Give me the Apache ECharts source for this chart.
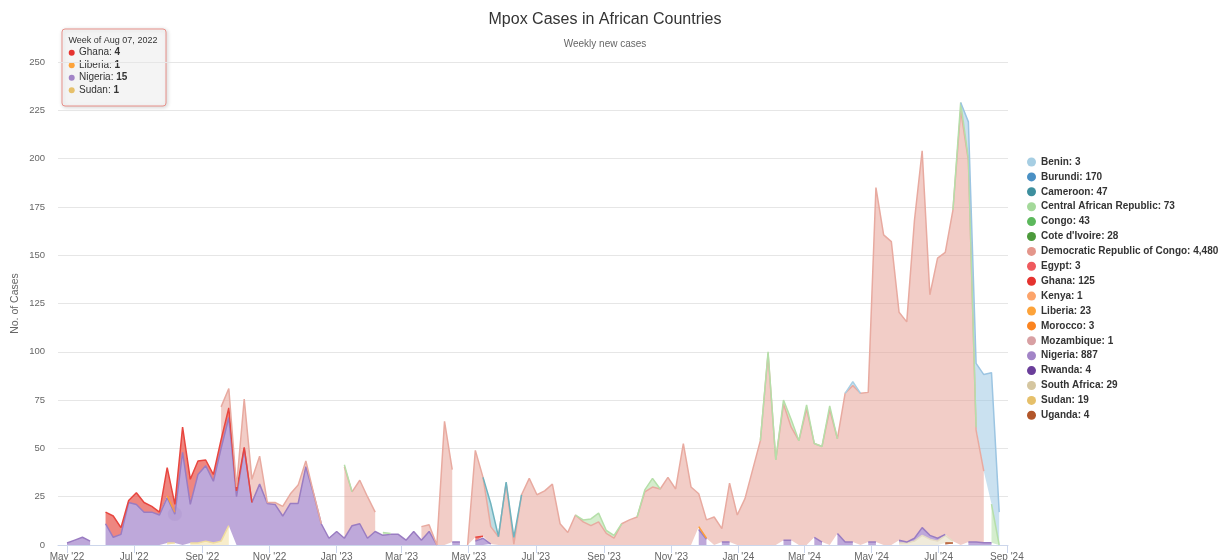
<!DOCTYPE html>
<html><head><meta charset="utf-8">
<script src="https://cdn.jsdelivr.net/npm/echarts@6/dist/echarts.min.js"></script>
<style>html,body{margin:0;padding:0;background:#fff}#c{width:1231px;height:560px}</style>
</head><body><div id="c"></div>
<script>
const _ = null;
const weeks = [
'2022-05-01','2022-05-08','2022-05-15','2022-05-22','2022-05-29','2022-06-05','2022-06-12','2022-06-19','2022-06-26','2022-07-03',
'2022-07-10','2022-07-17','2022-07-24','2022-07-31','2022-08-07','2022-08-14','2022-08-21','2022-08-28','2022-09-04','2022-09-11',
'2022-09-18','2022-09-25','2022-10-02','2022-10-09','2022-10-16','2022-10-23','2022-10-30','2022-11-06','2022-11-13','2022-11-20',
'2022-11-27','2022-12-04','2022-12-11','2022-12-18','2022-12-25','2023-01-01','2023-01-08','2023-01-15','2023-01-22','2023-01-29',
'2023-02-05','2023-02-12','2023-02-19','2023-02-26','2023-03-05','2023-03-12','2023-03-19','2023-03-26','2023-04-02','2023-04-09',
'2023-04-16','2023-04-23','2023-04-30','2023-05-07','2023-05-14','2023-05-21','2023-05-28','2023-06-04','2023-06-11','2023-06-18',
'2023-06-25','2023-07-02','2023-07-09','2023-07-16','2023-07-23','2023-07-30','2023-08-06','2023-08-13','2023-08-20','2023-08-27',
'2023-09-03','2023-09-10','2023-09-17','2023-09-24','2023-10-01','2023-10-08','2023-10-15','2023-10-22','2023-10-29','2023-11-05',
'2023-11-12','2023-11-19','2023-11-26','2023-12-03','2023-12-10','2023-12-17','2023-12-24','2023-12-31','2024-01-07','2024-01-14',
'2024-01-21','2024-01-28','2024-02-04','2024-02-11','2024-02-18','2024-02-25','2024-03-03','2024-03-10','2024-03-17','2024-03-24',
'2024-03-31','2024-04-07','2024-04-14','2024-04-21','2024-04-28','2024-05-05','2024-05-12','2024-05-19','2024-05-26','2024-06-02',
'2024-06-09','2024-06-16','2024-06-23','2024-06-30','2024-07-07','2024-07-14','2024-07-21','2024-07-28','2024-08-04','2024-08-11',
'2024-08-18','2024-08-25'];

const tickDates = ['2022-05-01','2022-07-01','2022-09-01','2022-11-01','2023-01-01','2023-03-01','2023-05-01','2023-07-01','2023-09-01','2023-11-01','2024-01-01','2024-03-01','2024-05-01','2024-07-01','2024-09-01'];
const tickLabels = ["May '22","Jul '22","Sep '22","Nov '22","Jan '23","Mar '23","May '23","Jul '23","Sep '23","Nov '23","Jan '24","Mar '24","May '24","Jul '24","Sep '24"];

const seriesNames = ['Benin','Burundi','Cameroon','Central African Republic','Congo',"Cote d'Ivoire",'Democratic Republic of Congo','Egypt','Ghana','Kenya','Liberia','Morocco','Mozambique','Nigeria','Rwanda','South Africa','Sudan','Uganda'];
const legendTotals = ['3','170','47','73','43','28','4,480','3','125','1','23','3','1','887','4','29','19','4'];

// full weekly arrays
const drc = [
_,_,_,_,_,_,_,_,_,_,
_,_,_,_,_,_,_,_,_,_,
17,10,2,25,12,14.5,0.5,1,5,5,
9.5,3,0.5,0,_,_,37,17.5,22.5,21.5,
10,_,_,_,_,_,7,3.5,0,64,
37.5,_,0,45,30.5,9,4.3,32,0.5,26,
34.5,26,28,31.5,11,6.5,15.5,12,10,12,
6,3.5,11,13,14.5,27.5,30,29,35,29,
52.5,30,17,9.5,14.5,7,30.5,15.5,24,39,
54,99,44,70.5,58.5,54,70.5,48.5,49.5,70,
49,77,81,78.5,77.5,183.5,160.5,157,118,114,
164.5,195,124.5,145,146,171.5,225,197.5,58,37,
_,_];
const nigeria = [
1,2.5,4,2,_,11,4,5.5,22,21,
17,17,15.5,23.5,15,48,20,35.5,39,32,
48,56,25,50,22,31.5,21.5,21,15,21.5,
21.5,40.5,26.5,11,3.5,7,3.5,10,11,3.5,
7,5,5.5,5.5,2.5,7,2.5,7,0,_,
1.5,1.5,_,2,3.5,0.5,_,_,_,_,
_,_,_,_,_,_,_,_,_,_,
_,_,_,_,_,_,_,_,_,_,
_,_,8,3,_,1.5,1.5,_,_,_,
_,_,_,2.5,2.5,_,_,4,1.5,_,
6,1.5,1.5,_,1.5,1.5,_,_,1.5,0.5,
1.5,4,2,1.5,0.5,_,_,1.5,1.5,1.2,
1.2,_];

// sparse weekly values [week, value]
const ghana = [['2022-06-05',6],['2022-06-12',11],['2022-06-19',3.5],['2022-06-26',1],['2022-07-03',6],['2022-07-10',5],['2022-07-17',3],['2022-07-24',1.5],['2022-07-31',14.5],['2022-08-07',4],['2022-08-14',13],['2022-08-21',13],['2022-08-28',7],['2022-09-04',3],['2022-09-11',3.5],['2022-09-18',4.5],['2022-09-25',5],['2022-10-02',3],['2022-10-09',0.5],['2022-10-16',0],['2023-05-07',2],['2023-05-14',1]];
const liberia = [['2022-07-31',1],['2022-08-07',1],['2023-11-26',1.5],['2023-12-03',0.5]];
const sudan = [['2022-07-31',1],['2022-08-07',1],['2022-08-21',1],['2022-08-28',1],['2022-09-04',2],['2022-09-11',1],['2022-09-18',2],['2022-09-25',10]];
const southAfrica = [['2024-05-26',1],['2024-06-02',1],['2024-06-09',2],['2024-06-16',5],['2024-06-23',3],['2024-06-30',2],['2024-07-07',4],['2024-07-14',1]];
const uganda = [['2024-07-07',1],['2024-07-14',1]];
const cameroon = [['2023-05-14',0],['2023-05-21',12],['2023-05-28',0],['2023-06-04',0.5],['2023-06-11',3.5],['2023-06-18',0]];
const benin = [['2024-04-07',0],['2024-04-14',2],['2024-04-21',0]];
const car = [['2023-01-08',1],['2023-01-15',0],['2023-02-12',1.5],['2023-02-19',0.5],['2023-08-06',0],['2023-08-13',1],['2023-08-20',3.5],['2023-08-27',4.5],['2023-09-03',1.5],['2023-09-10',1.5],['2023-09-17',0],['2023-10-01',0],['2023-10-08',1],['2023-10-15',4.5],['2023-10-22',0],['2024-01-21',0],['2024-01-28',1],['2024-02-04',0],['2024-02-11',2],['2024-02-18',4],['2024-02-25',0],['2024-03-03',2],['2024-03-10',0],['2024-03-17',0],['2024-03-24',2],['2024-03-31',0],['2024-07-14',0],['2024-07-21',4],['2024-07-28',1],['2024-08-04',1.5],['2024-08-18',20],['2024-08-25',0]];
const burundi = [['2024-07-21',0],['2024-07-28',19],['2024-08-04',33],['2024-08-11',50],['2024-08-18',68],['2024-08-25',17]];
const congo = [], coteDIvoire = [], egypt = [], kenya = [], morocco = [], mozambique = [], rwanda = [];

// tooltip content shown in the reference (hovered week)
const tipWeek = '2022-08-07';
const tipHeader = 'Week of Aug 07, 2022';
const tipNames = ['Ghana','Liberia','Nigeria','Sudan'];
const tipValues = [4,1,15,1];

// styles
const dotColors = ['#a6cee3','#4a90c4','#3d8f9e','#a4d99a','#5cb85c','#4c9a3c','#e4968b','#ef5a5e','#e5332f','#fca46b','#fda33a','#fb8420','#d8a0a3','#a284c7','#6a3e9a','#d5c6a0','#e6c06a','#b2562a'];
const lineColors = ['#a9cfe4','#9cc5e2','#6fb3bf','#b5dfa9','#5cb85c','#4c9a3c','#e8aaa0','#ef5a5e','#e8463f','#fca46b','#fd9e3a','#fb8420','#d8a0a3','#9a7cc2','#6a3e9a','#e6dcc4','#f0dc9e','#b2562a'];
const fillColors = ['rgba(166,206,227,0.55)','rgba(150,195,225,0.5)','rgba(90,170,185,0.4)','rgba(170,220,155,0.5)','rgba(92,184,92,0.5)','rgba(76,154,60,0.5)','rgba(230,155,143,0.5)','rgba(239,90,94,0.6)','rgba(228,60,50,0.62)','rgba(252,164,107,0.5)','rgba(253,160,58,0.55)','rgba(251,132,32,0.5)','rgba(216,160,163,0.5)','rgba(150,115,195,0.62)','rgba(106,62,154,0.5)','rgba(222,210,175,0.45)','rgba(240,215,140,0.45)','rgba(178,86,42,0.5)'];

function ts(s){ const p = s.split('-').map(Number); return Date.UTC(p[0], p[1]-1, p[2]); }
function expand(pairs){ const m = {}; pairs.forEach(function(p){ m[p[0]] = p[1]; }); return weeks.map(function(w){ return (w in m) ? m[w] : null; }); }

const valuesByName = {
  'Benin': expand(benin), 'Burundi': expand(burundi), 'Cameroon': expand(cameroon),
  'Central African Republic': expand(car), 'Congo': expand(congo), "Cote d'Ivoire": expand(coteDIvoire),
  'Democratic Republic of Congo': drc, 'Egypt': expand(egypt), 'Ghana': expand(ghana), 'Kenya': expand(kenya),
  'Liberia': expand(liberia), 'Morocco': expand(morocco), 'Mozambique': expand(mozambique), 'Nigeria': nigeria,
  'Rwanda': expand(rwanda), 'South Africa': expand(southAfrica), 'Sudan': expand(sudan), 'Uganda': expand(uganda)
};

const weekTs = weeks.map(ts);
const tickTs = tickDates.map(ts);
const labelByTs = {}; tickTs.forEach(function(t,i){ labelByTs[t] = tickLabels[i]; });
const totalByName = {}; seriesNames.forEach(function(n,i){ totalByName[n] = legendTotals[i]; });

const FONT = '"Liberation Sans", Arial, sans-serif';
const DAY = 86400000;
const X_MIN = ts('2022-05-01') - 8.2 * DAY, X_MAX = ts('2024-09-01') + 1 * DAY;

// Highcharts-style stacking: first series on top -> build in reverse order
const series = [];
for (let i = seriesNames.length - 1; i >= 0; i--) {
  const name = seriesNames[i];
  const vals = valuesByName[name];
  series.push({
    name: name, type: 'line', stack: 'cases', symbol: 'none', showSymbol: false,
    xAxisIndex: 0, yAxisIndex: 0,
    connectNulls: false, silent: true,
    lineStyle: { width: 1.5, color: lineColors[i] },
    areaStyle: { color: fillColors[i], opacity: 1 },
    itemStyle: { color: dotColors[i] },
    emphasis: { disabled: true },
    data: weekTs.map(function(t, k){ return [t, vals[k]]; })
  });
}
// hover halo on the hovered Nigeria point (stack top of Sudan + Nigeria)
const tipIdx = weeks.indexOf(tipWeek);
series.push({
  name: 'hover', type: 'scatter', xAxisIndex: 0, yAxisIndex: 0, silent: true, z: 5,
  symbolSize: 14, itemStyle: { color: 'rgba(162,132,199,0.28)' },
  data: [[weekTs[tipIdx], (valuesByName['Sudan'][tipIdx] || 0) + nigeria[tipIdx]]]
});

const rowH = 12.5;
const tipChildren = [{
  type: 'rect', shape: { x: 0, y: 0, width: 104, height: 77, r: 3 },
  style: { fill: 'rgba(247,247,247,0.9)', stroke: '#e8918a', lineWidth: 1, shadowBlur: 4, shadowColor: 'rgba(0,0,0,0.18)', shadowOffsetX: 1, shadowOffsetY: 1 }
}, {
  type: 'text', x: 6.5, y: 11.7, style: { text: tipHeader, fontSize: 9, fill: '#333', fontFamily: FONT, verticalAlign: 'middle' }
}];
tipNames.forEach(function(n, k){
  const ci = seriesNames.indexOf(n);
  tipChildren.push({ type: 'circle', shape: { cx: 9.7, cy: 23.7 + k*rowH, r: 3 }, style: { fill: dotColors[ci] } });
  tipChildren.push({ type: 'text', x: 17, y: 23.7 + k*rowH, style: {
    text: '{n|' + n + ': }{v|' + tipValues[k] + '}', verticalAlign: 'middle',
    rich: { n: { fontSize: 10, fill: '#333', fontFamily: FONT }, v: { fontSize: 10, fontWeight: 'bold', fill: '#333', fontFamily: FONT } }
  }});
});

const chart = echarts.init(document.getElementById('c'), null, { renderer: 'canvas' });
chart.setOption({
  animation: false,
  backgroundColor: '#fff',
  textStyle: { fontFamily: FONT },
  title: {
    text: 'Mpox Cases in African Countries', subtext: 'Weekly new cases',
    left: 600, textAlign: 'center', top: 7, itemGap: 11,
    textStyle: { fontSize: 16, fontWeight: 'normal', color: '#333', fontFamily: FONT },
    subtextStyle: { fontSize: 10, color: '#666', fontFamily: FONT }
  },
  legend: {
    orient: 'vertical', left: 1027, top: 156, padding: 0,
    icon: 'circle', itemWidth: 9, itemHeight: 9, itemGap: 2.9,
    data: seriesNames,
    formatter: function(name){ return name + ': ' + totalByName[name]; },
    textStyle: { fontSize: 10, fontWeight: 'bold', color: '#333', fontFamily: FONT, lineHeight: 12 },
    selectedMode: false
  },
  grid: { left: 58, right: 223, top: 62, bottom: 15, containLabel: false, outerBoundsMode: 'none' },
  xAxis: [{
    type: 'time', min: X_MIN, max: X_MAX, position: 'bottom',
    axisLine: { show: false }, axisTick: { show: false }, axisLabel: { show: false }, splitLine: { show: false }
  }, {
    type: 'value', min: X_MIN, max: X_MAX, position: 'bottom',
    axisLine: { show: true, onZero: false, lineStyle: { color: '#ccd6eb' } },
    axisTick: { show: true, length: 8, lineStyle: { color: '#ccd6eb' }, customValues: tickTs },
    axisLabel: { customValues: tickTs, color: '#666', fontSize: 10, margin: 7, fontFamily: FONT,
      formatter: function(v){ return labelByTs[v] || ''; } },
    splitLine: { show: false }
  }],
  yAxis: {
    type: 'value', min: 0, max: 250, interval: 25,
    name: 'No. of Cases', nameLocation: 'middle', nameGap: 37, nameMoveOverlap: false,
    nameTextStyle: { color: '#666', fontSize: 10.5, fontFamily: FONT },
    axisLine: { show: false }, axisTick: { show: false },
    axisLabel: { color: '#666', fontSize: 9.5, margin: 13, fontFamily: FONT },
    splitLine: { lineStyle: { color: '#e6e6e6', width: 1 } }
  },
  graphic: [{ type: 'group', x: 62, y: 29, z: 100, children: tipChildren }],
  series: series
});
</script>
</body></html>
